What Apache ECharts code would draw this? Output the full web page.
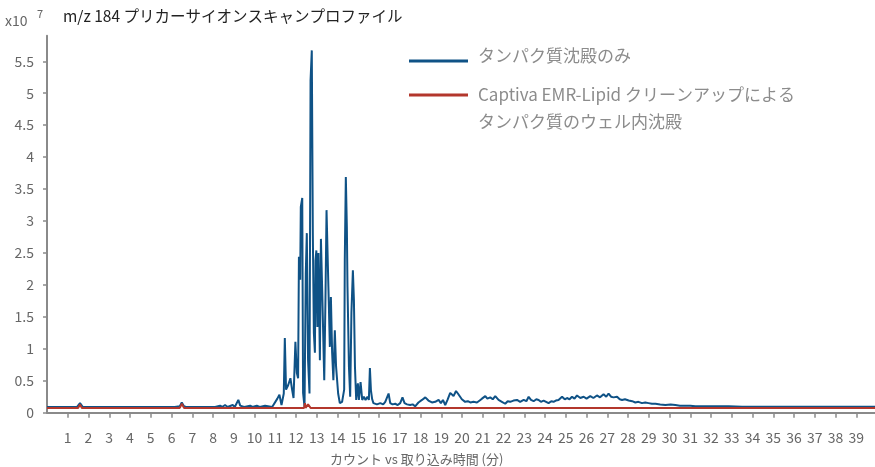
<!DOCTYPE html>
<html>
<head>
<meta charset="utf-8">
<title>m/z 184 プリカーサイオンスキャンプロファイル</title>
<script src="https://cdn.jsdelivr.net/npm/echarts@6/dist/echarts.min.js"></script>
<style>
  html, body { margin: 0; padding: 0; background: #fff; }
  #chart { width: 875px; height: 467px; }
</style>
</head>
<body>
<div id="chart"></div>
<script>
// 単位: x10^7 カウント, 時間: 分
var titleText = 'm/z 184 プリカーサイオンスキャンプロファイル';
var xAxisTitle = 'カウント vs 取り込み時間 (分)';
var seriesNames = ['タンパク質沈殿のみ', 'Captiva EMR-Lipid クリーンアップによる\nタンパク質のウェル内沈殿'];
var xTicks = [1, 2, 3, 4, 5, 6, 7, 8, 9, 10, 11, 12, 13, 14, 15, 16, 17, 18, 19, 20,
  21, 22, 23, 24, 25, 26, 27, 28, 29, 30, 31, 32, 33, 34, 35, 36, 37, 38, 39];
var yTicks = [0, 0.5, 1, 1.5, 2, 2.5, 3, 3.5, 4, 4.5, 5, 5.5];

// タンパク質沈殿のみ [時間, 値]
var proteinOnly = [
  [0, 0.09], [1.45, 0.09], [1.59, 0.15], [1.72, 0.09], [2.1, 0.09], [2.155, 0.12], [2.22, 0.09],
  [6.0, 0.09], [6.09, 0.12], [6.15, 0.09], [6.4, 0.1], [6.495, 0.16], [6.6, 0.1], [6.7, 0.09],
  [7.95, 0.09], [8.02, 0.12], [8.1, 0.09], [8.34, 0.11], [8.45, 0.09], [8.58, 0.12], [8.7, 0.09],
  [8.95, 0.12], [9.05, 0.09], [9.22, 0.2], [9.31, 0.11], [9.5, 0.09], [9.79, 0.11], [9.9, 0.09],
  [10.11, 0.11], [10.25, 0.09], [10.51, 0.11], [10.6, 0.09], [10.85, 0.09], [11.1, 0.22],
  [11.14, 0.2], [11.2, 0.28], [11.3, 0.12], [11.41, 0.3], [11.46, 1.17], [11.52, 0.36],
  [11.62, 0.43], [11.73, 0.54], [11.81, 0.36], [11.88, 0.23], [11.97, 1.11], [12.04, 0.62],
  [12.1, 0.54], [12.14, 2.44], [12.2, 2.08], [12.23, 3.22], [12.3, 3.36], [12.34, 0.31],
  [12.41, 0.09], [12.47, 2.18], [12.52, 2.81], [12.58, 0.82], [12.65, 0.3], [12.7, 5.2],
  [12.76, 5.67], [12.81, 2.8], [12.86, 1.25], [12.91, 0.94], [12.94, 2.38], [12.98, 2.54],
  [13.03, 1.34], [13.08, 2.5], [13.15, 0.82], [13.2, 2.72], [13.27, 1.8], [13.36, 0.51],
  [13.42, 1.81], [13.47, 3.17], [13.52, 3.2], [13.56, 1.97], [13.63, 1.03], [13.68, 1.81],
  [13.74, 0.94], [13.8, 0.51], [13.87, 1.29], [13.93, 0.72], [14.03, 0.3], [14.11, 0.15],
  [14.22, 0.17], [14.32, 0.36], [14.35, 2.39], [14.4, 3.69], [14.45, 2.9], [14.48, 1.97],
  [14.55, 0.72], [14.61, 0.25], [14.67, 1.57], [14.74, 2.23], [14.79, 1.76], [14.84, 0.72],
  [14.9, 0.2], [14.98, 0.46], [15.03, 0.2], [15.11, 0.48], [15.19, 0.2], [15.27, 0.25],
  [15.35, 0.2], [15.44, 0.25], [15.51, 0.2], [15.56, 0.7], [15.61, 0.35], [15.67, 0.21],
  [15.73, 0.15], [15.9, 0.13], [16.06, 0.15], [16.2, 0.13], [16.3, 0.17], [16.46, 0.3],
  [16.54, 0.15], [16.65, 0.13], [16.78, 0.14], [16.9, 0.12], [17.02, 0.15], [17.13, 0.24],
  [17.23, 0.15], [17.35, 0.13], [17.5, 0.12], [17.62, 0.13], [17.74, 0.1], [17.9, 0.16],
  [18.07, 0.2], [18.15, 0.17], [18.23, 0.24], [18.38, 0.19], [18.47, 0.21], [18.55, 0.16],
  [18.71, 0.17], [18.8, 0.14], [18.87, 0.2], [18.98, 0.15], [19.08, 0.2], [19.19, 0.12],
  [19.3, 0.2], [19.43, 0.31], [19.51, 0.34], [19.59, 0.26], [19.71, 0.34], [19.8, 0.3],
  [19.88, 0.32], [19.99, 0.21], [20.08, 0.19], [20.15, 0.17], [20.28, 0.18], [20.4, 0.16],
  [20.55, 0.17], [20.72, 0.16], [20.85, 0.19], [20.96, 0.22], [21.05, 0.2], [21.12, 0.26],
  [21.22, 0.22], [21.36, 0.24], [21.48, 0.21], [21.6, 0.26], [21.76, 0.2], [21.92, 0.17],
  [22.0, 0.19], [22.08, 0.14], [22.2, 0.18], [22.32, 0.17], [22.48, 0.19], [22.65, 0.2],
  [22.8, 0.17], [22.97, 0.2], [23.1, 0.18], [23.21, 0.25], [23.32, 0.2], [23.45, 0.18],
  [23.58, 0.21], [23.69, 0.2], [23.8, 0.17], [23.93, 0.19], [24.05, 0.17], [24.17, 0.15],
  [24.3, 0.18], [24.41, 0.17], [24.52, 0.19], [24.65, 0.2], [24.82, 0.25], [24.95, 0.21],
  [25.06, 0.23], [25.18, 0.21], [25.3, 0.25], [25.42, 0.22], [25.54, 0.27], [25.7, 0.23],
  [25.86, 0.25], [26.0, 0.22], [26.18, 0.26], [26.33, 0.23], [26.5, 0.27], [26.65, 0.24],
  [26.82, 0.29], [26.95, 0.25], [27.06, 0.3], [27.18, 0.25], [27.3, 0.24], [27.47, 0.25],
  [27.6, 0.21], [27.71, 0.2], [27.85, 0.21], [28.03, 0.19], [28.2, 0.18], [28.35, 0.16],
  [28.5, 0.17], [28.67, 0.15], [28.83, 0.16], [28.99, 0.15], [29.15, 0.14], [29.32, 0.14],
  [29.55, 0.13], [29.8, 0.12], [30.05, 0.13], [30.28, 0.12], [30.5, 0.11], [30.76, 0.11],
  [31.0, 0.11], [31.24, 0.1], [31.5, 0.1], [31.87, 0.1], [32.3, 0.1], [32.7, 0.1],
  [32.77, 0.12], [32.85, 0.1], [33.5, 0.095], [34.15, 0.095], [34.22, 0.11], [34.3, 0.095],
  [39.9, 0.095]
];

// Captiva EMR-Lipid [時間, 値]
var captivaEmr = [
  [0, 0.075], [1.5, 0.075], [1.59, 0.13], [1.68, 0.075], [6.4, 0.075], [6.5, 0.14],
  [6.6, 0.075], [12.39, 0.075], [12.43, 0.15], [12.46, 0.075], [12.55, 0.075], [12.58, 0.13],
  [12.66, 0.13], [12.7, 0.075], [39.9, 0.075]
];

var blue = '#0f5286';
var red = '#b3372c';
var fontFam = "'Liberation Sans Narrow', 'Noto Sans CJK JP', sans-serif";

var chart = echarts.init(document.getElementById('chart'));

var option = {
  animation: false,
  backgroundColor: '#fff',
  grid: { left: 47, right: 0, top: 35.7, bottom: 54.3 },
  xAxis: {
    type: 'value',
    min: 0,
    max: 39.9,
    offset: 8,
    axisLine: { show: true, lineStyle: { color: '#8a8a8a', width: 2 } },
    axisTick: { show: true, inside: false, length: 5, customValues: xTicks, lineStyle: { color: '#8a8a8a', width: 1.5 } },
    axisLabel: { customValues: xTicks, color: '#666', fontSize: 14, margin: 10, fontFamily: fontFam },
    splitLine: { show: false }
  },
  yAxis: {
    type: 'value',
    min: 0,
    max: 5.9,
    offset: 4,
    axisLine: { show: true, lineStyle: { color: '#8a8a8a', width: 2 } },
    axisTick: { show: true, length: 4, customValues: yTicks, lineStyle: { color: '#8a8a8a', width: 1.5 } },
    axisLabel: { customValues: yTicks, color: '#666', fontSize: 14, margin: 9, fontFamily: fontFam },
    splitLine: { show: false }
  },
  series: [
    {
      name: seriesNames[0],
      type: 'line',
      data: proteinOnly,
      showSymbol: false,
      lineStyle: { color: blue, width: 2 },
      z: 2
    },
    {
      name: seriesNames[1],
      type: 'line',
      data: captivaEmr,
      showSymbol: false,
      lineStyle: { color: red, width: 2 },
      z: 3
    }
  ],
  graphic: [
    { type: 'text', left: 5, top: 14, style: { text: 'x10', fill: '#666', font: '14px ' + fontFam } },
    { type: 'text', left: 37, top: 8, style: { text: '7', fill: '#666', font: '11px ' + fontFam } },
    { type: 'text', left: 63, top: 8, style: { text: titleText, fill: '#222', font: '15.5px ' + fontFam } },
    // 凡例
    { type: 'line', shape: { x1: 409, y1: 61, x2: 468, y2: 61 }, style: { stroke: blue, lineWidth: 3 } },
    { type: 'text', left: 478, top: 47, style: { text: seriesNames[0], fill: '#8c8c8c', font: '17px ' + fontFam } },
    { type: 'line', shape: { x1: 409, y1: 95, x2: 468, y2: 95 }, style: { stroke: red, lineWidth: 3 } },
    { type: 'text', left: 478, top: 81, style: { text: seriesNames[1], fill: '#8c8c8c', font: '17px ' + fontFam, lineHeight: 27 } },
    { type: 'text', left: 330, top: 453, style: { text: xAxisTitle, fill: '#666', font: '13px ' + fontFam } }
  ]
};

chart.setOption(option);
</script>
</body>
</html>
